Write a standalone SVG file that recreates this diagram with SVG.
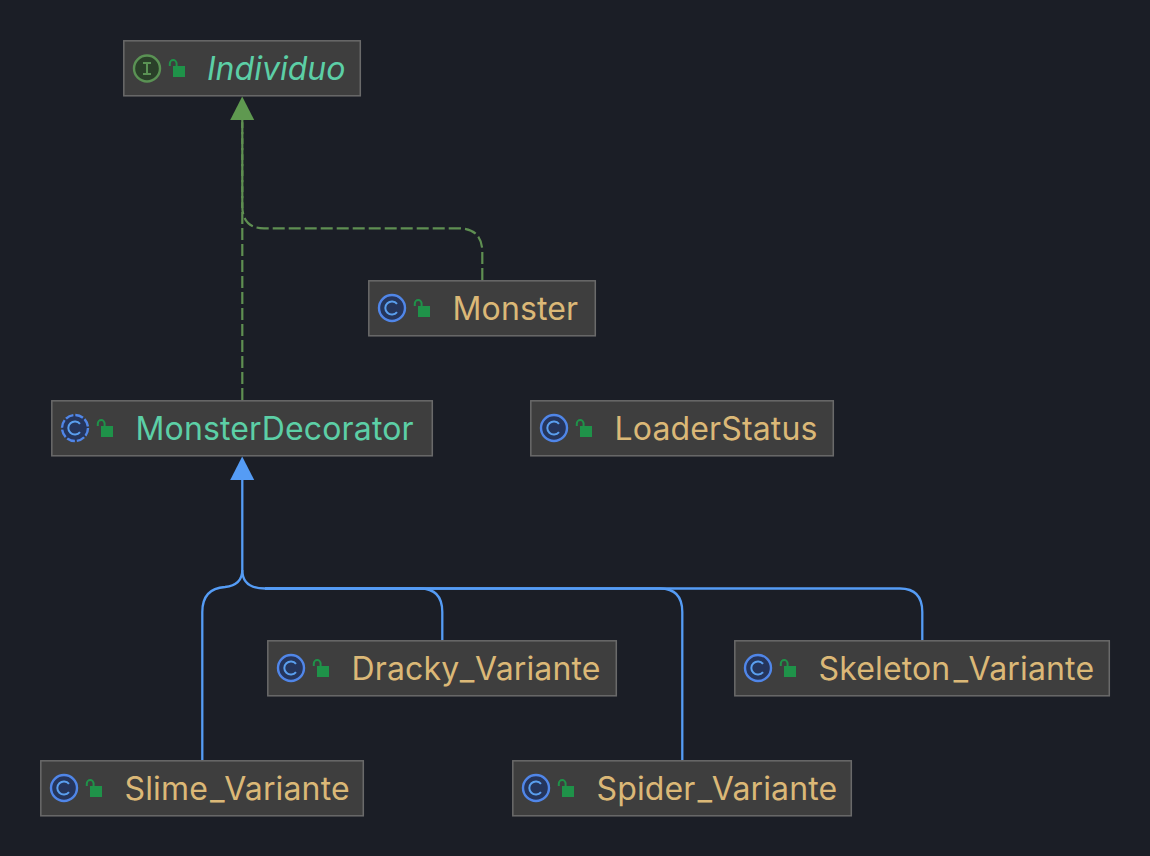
<svg xmlns="http://www.w3.org/2000/svg" width="1150" height="856" viewBox="0 0 1150 856">
<style>
.box{fill:#3e3e3e;stroke:#6a6a6a;stroke-width:1.5}
.t{font-family:Inter,"Noto Sans",sans-serif;font-size:32px;letter-spacing:.15px;fill:#dbb877}
.g{fill:#5ccfa6}
.i{font-style:italic;letter-spacing:0}
.ic{fill:#25355c;stroke:#5086e8;stroke-width:2.4}
.ig{fill:#2a4029;stroke:#5a9254;stroke-width:2.4}
.lk{fill:#1f9249}
.ls{fill:none;stroke:#1f9249;stroke-width:2}
.gl{fill:none;stroke:#5f8f52;stroke-width:2.2}
.bl{fill:none;stroke:#559cf5;stroke-width:2.3}
</style>
<defs>
<g id="lock"><rect class="lk" x="4" y="6" width="12" height="11"/><path class="ls" d="M0.8 6V3.5a3.4 3.4 0 0 1 6.8 0V6"/></g>
<g id="cls"><circle class="ic" cx="0" cy="0" r="13"/><path d="M5 -4.2A6.6 6.6 0 1 0 5 4.2" fill="none" stroke="#5a9fef" stroke-width="2"/></g>
<g id="abs"><circle class="ic" cx="0" cy="0" r="13" stroke-dasharray="8.2 2"/><path d="M5 -4.2A6.6 6.6 0 1 0 5 4.2" fill="none" stroke="#5a9fef" stroke-width="2"/></g>
</defs>
<rect width="1150" height="856" fill="#1b1e26"/>
<g id="connectors">
<path class="gl" stroke-dasharray="12 4" d="M242.300 400V118"/>
<path class="gl" stroke-dasharray="12 4" d="M482.300 280V252Q482.300 228.300 458 228.300H264Q242.300 228.300 242.300 206V118"/>
<path d="M242.200 96.500L254.200 120H230.200Z" fill="#5f9950"/>
<path class="bl" d="M202.300 760V612Q202.300 588.500 225 587Q242.300 585 242.300 570V478"/>
<path class="bl" d="M442.300 640V612Q442.300 588.500 420 588.500H265Q242.300 588.500 242.300 570"/>
<path class="bl" d="M682.300 760V612Q682.300 588.500 660 588.500H265"/>
<path class="bl" d="M922.300 640V612Q922.300 588.500 900 588.500H265"/>
<path d="M242.200 456.500L254.200 480H230.200Z" fill="#559cf5"/>
</g>
<g id="Individuo"><rect class="box" x="123.800" y="40.800" width="236.500" height="55"/>
<circle class="ig" cx="147" cy="68.500" r="13"/><path d="M143 63h8M147 63v11M143 74h8" fill="none" stroke="#5a9254" stroke-width="2"/>
<use href="#lock" x="169" y="60"/><text class="t g i" x="207" y="80">Individuo</text></g>
<g id="Monster"><rect class="box" x="368.800" y="280.800" width="226.500" height="55"/>
<use href="#cls" x="392" y="308"/><use href="#lock" x="414" y="300"/><text class="t" x="452.500" y="320">Monster</text></g>
<g id="MonsterDecorator"><rect class="box" x="51.800" y="400.800" width="380.500" height="55"/>
<use href="#abs" x="75" y="428"/><use href="#lock" x="97" y="420"/><text class="t g" x="135.500" y="440">MonsterDecorator</text></g>
<g id="LoaderStatus"><rect class="box" x="530.800" y="400.800" width="302.500" height="55"/>
<use href="#cls" x="554" y="428"/><use href="#lock" x="576" y="420"/><text class="t" x="614.500" y="440">LoaderStatus</text></g>
<g id="Dracky_Variante"><rect class="box" x="267.800" y="640.800" width="348.500" height="55"/>
<use href="#cls" x="291" y="668"/><use href="#lock" x="313" y="660"/><text class="t" x="351.500" y="680">Dracky<tspan dx="3">_</tspan><tspan dx="3">Variante</tspan></text></g>
<g id="Skeleton_Variante"><rect class="box" x="734.800" y="640.800" width="374.500" height="55"/>
<use href="#cls" x="758" y="668"/><use href="#lock" x="780" y="660"/><text class="t" x="818.500" y="680">Skeleton<tspan dx="3">_</tspan><tspan dx="3">Variante</tspan></text></g>
<g id="Slime_Variante"><rect class="box" x="40.800" y="760.800" width="322.500" height="55"/>
<use href="#cls" x="64" y="788"/><use href="#lock" x="86" y="780"/><text class="t" x="124.500" y="800">Slime<tspan dx="2">_</tspan><tspan dx="2">Variante</tspan></text></g>
<g id="Spider_Variante"><rect class="box" x="512.800" y="760.800" width="338.500" height="55"/>
<use href="#cls" x="536" y="788"/><use href="#lock" x="558" y="780"/><text class="t" x="596.500" y="800">Spider<tspan dx="2">_</tspan><tspan dx="2">Variante</tspan></text></g>
</svg>
